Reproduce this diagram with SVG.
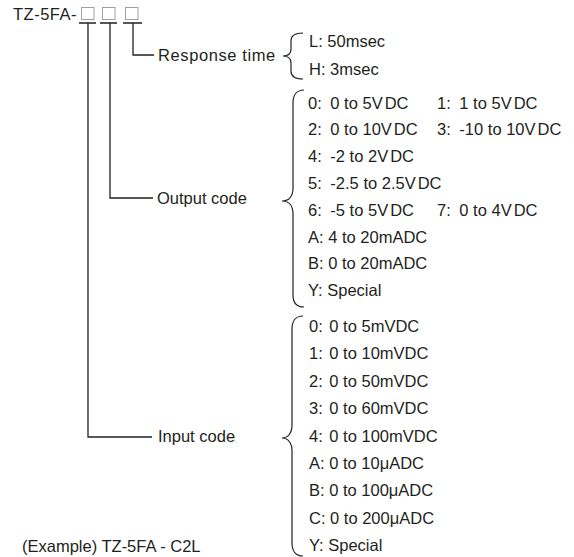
<svg xmlns="http://www.w3.org/2000/svg" width="574" height="557" viewBox="0 0 574 557">
<style>
text{font-family:"Liberation Sans",Arial,sans-serif;font-size:16.5px;fill:#231f20}
.ln{fill:none;stroke:#231f20;stroke-width:1.3}
.br{fill:none;stroke:#231f20;stroke-width:1.2}
.bx{fill:#fff;stroke:#a0a0a0;stroke-width:1}
</style>
<rect width="574" height="557" fill="#fff"/>
<g id="model">
<text x="13" y="20" letter-spacing="0.5">TZ-5FA-</text>
<rect class="bx" x="81.5" y="7.5" width="12.5" height="12"/>
<rect class="bx" x="102.5" y="7.5" width="12.5" height="12"/>
<rect class="bx" x="125.5" y="7.5" width="12.5" height="12"/>
</g>
<g id="connectors">
<path class="ln" d="M79,23H96M100,23H117M123,23H142"/>
<path class="ln" d="M133,23V55H154"/>
<path class="ln" d="M110,23V198H153"/>
<path class="ln" d="M88,23V437H152"/>
</g>
<g id="response">
<text x="158" y="61" letter-spacing="0.6">Response time</text>
<path class="br" d="M303,33 C295,33 291,36 291,41 L291,49 C291,54 288,56 283,56 C288,56 291,58 291,63 L291,71 C291,76 295,79 303,79"/>
<text x="309" y="47">L: 50msec</text>
<text x="309" y="75">H: 3msec</text>
</g>
<g id="output">
<text x="157" y="204">Output code</text>
<path class="br" d="M304,90 C297,90 293,95 293,103 L293,188 C293,196 289,201 282,201 C289,201 293,206 293,214 L293,295 C293,303 297,307 304,307"/>
<text x="308" y="108.5">0: <tspan dx="4">0 to 5V</tspan><tspan dx="2">DC</tspan></text>
<text x="437" y="108.5">1: <tspan dx="4">1 to 5V</tspan><tspan dx="2">DC</tspan></text>
<text x="308" y="135.3">2: <tspan dx="4">0 to 10V</tspan><tspan dx="2">DC</tspan></text>
<text x="437" y="135.3">3: <tspan dx="4">-10 to 10V</tspan><tspan dx="2">DC</tspan></text>
<text x="308" y="162.1">4: <tspan dx="4">-2 to 2V</tspan><tspan dx="2">DC</tspan></text>
<text x="308" y="188.9">5: <tspan dx="4">-2.5 to 2.5V</tspan><tspan dx="2">DC</tspan></text>
<text x="308" y="215.7">6: <tspan dx="4">-5 to 5V</tspan><tspan dx="2">DC</tspan></text>
<text x="437" y="215.7">7: <tspan dx="4">0 to 4V</tspan><tspan dx="2">DC</tspan></text>
<text x="308" y="242.5">A: 4 to 20mADC</text>
<text x="308" y="269.3">B: 0 to 20mADC</text>
<text x="308" y="296.1">Y: Special</text>
</g>
<g id="input">
<text x="158" y="442">Input code</text>
<path class="br" d="M303,316 C296,316 292,321 292,329 L292,425 C292,433 288,438 282,438 C288,438 292,443 292,451 L292,543 C292,551 296,556 303,556"/>
<text x="309" y="332">0: <tspan dx="2">0 to 5mVDC</tspan></text>
<text x="309" y="359.4">1: <tspan dx="2">0 to 10mVDC</tspan></text>
<text x="309" y="386.8">2: <tspan dx="2">0 to 50mVDC</tspan></text>
<text x="309" y="414.2">3: <tspan dx="2">0 to 60mVDC</tspan></text>
<text x="309" y="441.6">4: <tspan dx="2">0 to 100mVDC</tspan></text>
<text x="309" y="469">A: 0 to 10μADC</text>
<text x="309" y="496.4">B: 0 to 100μADC</text>
<text x="309" y="523.8">C: 0 to 200μADC</text>
<text x="309" y="551.2">Y: Special</text>
</g>
<g id="example">
<text x="22" y="552">(Example) TZ-5FA - C2L</text>
</g>
</svg>
